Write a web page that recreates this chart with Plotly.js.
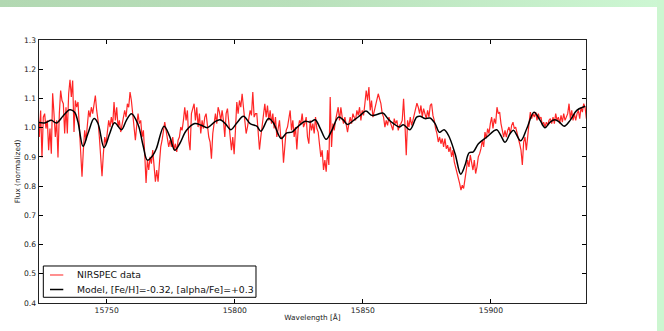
<!DOCTYPE html>
<html>
<head>
<meta charset="utf-8">
<script src="https://cdn.plot.ly/plotly-3.0.1.min.js"></script>
<style>
  html, body { margin: 0; padding: 0; background: #ffffff; }
  #wrap { position: relative; width: 664px; height: 331px; overflow: hidden; background: #ffffff; }
  #topstrip { position: absolute; left: 0; top: 0; width: 664px; height: 7px;
              background: linear-gradient(to right, #b2d8b2 0%, #b9e0bb 45%, #cdf7d3 100%); }
  #rightstrip { position: absolute; left: 657px; top: 0; width: 7px; height: 331px; background: #ccf6d0; }
  #chart { position: absolute; left: 0; top: 0; width: 664px; height: 331px; }
</style>
</head>
<body>
<div id="wrap">
  <div id="topstrip"></div>
  <div id="rightstrip"></div>
  <div id="chart"></div>
</div>
<script>
// NIRSPEC observed spectrum: regularly sampled, starting wavelength and step (Å)
const dataStart = 15723.2;
const dataStep = 0.5208;
const dataFlux = [
  1.070,0.968,1.059,0.898,1.036,1.048,0.997,1.025,0.923,0.997,
  0.911,1.118,1.048,0.968,1.025,0.898,1.048,1.127,1.093,1.082,
  0.980,1.070,0.980,1.116,1.164,1.105,1.161,0.985,1.093,1.070,
  1.088,1.014,0.934,0.832,0.923,0.991,0.957,1.014,1.059,1.036,
  1.070,1.048,1.082,1.110,1.059,1.025,0.968,0.900,0.834,0.911,
  0.968,0.945,0.991,1.025,1.002,1.036,1.008,1.088,1.025,1.070,
  1.002,1.025,0.985,1.014,1.031,1.059,1.036,1.082,1.070,1.122,
  1.093,1.048,1.025,0.957,1.008,1.048,1.014,1.025,0.968,0.991,
  0.911,0.811,0.889,0.855,0.900,0.877,0.923,0.866,0.815,0.855,
  0.815,0.877,0.934,0.957,0.991,1.019,0.991,0.968,0.934,0.957,
  0.934,0.968,0.923,0.945,0.917,0.957,0.968,1.002,0.991,1.025,
  1.070,1.025,1.059,0.957,0.923,1.048,1.070,1.082,1.025,1.070,
  1.002,1.048,0.980,1.025,0.997,1.036,1.048,1.002,0.968,0.951,
  0.894,0.980,1.025,1.048,1.014,1.070,1.053,1.025,1.059,
  1.025,0.968,1.048,1.065,1.014,0.957,0.923,0.968,0.909,0.991,
  1.088,1.048,1.093,1.070,1.116,1.070,1.025,0.980,1.002,1.036,
  1.059,1.042,1.122,1.036,1.048,1.048,0.991,0.925,0.968,1.014,
  1.036,1.082,1.036,1.076,1.025,1.059,1.014,1.048,0.997,1.036,
  0.968,0.991,1.025,0.963,0.968,0.880,0.945,0.991,1.002,1.025,
  1.059,0.991,1.025,0.968,1.002,0.925,0.997,1.025,1.014,1.048,
  1.002,1.014,1.036,0.968,0.945,1.025,0.991,1.014,0.980,1.036,
  0.997,0.985,0.934,0.900,0.923,0.855,0.889,0.849,0.923,0.872,
  1.105,0.934,1.014,0.991,1.025,1.048,1.070,1.025,1.070,1.036,
  1.014,1.036,1.002,0.985,1.014,1.036,1.014,1.048,1.036,1.025,
  1.059,1.042,1.070,1.025,1.059,1.042,1.082,1.127,1.093,1.139,
  1.059,1.093,1.036,1.059,1.070,1.093,1.116,1.099,1.082,1.048,
  1.036,1.002,1.025,1.008,1.036,1.019,1.002,0.991,1.031,1.014,
  1.025,0.991,1.008,1.014,1.025,1.099,
  1.014,0.906,1.025,1.002,1.036,1.008,1.025,1.048,1.070,1.084,
  1.070,1.048,1.076,1.036,1.065,1.042,1.031,1.059,1.036,1.076,
  1.082,1.042,1.025,0.997,0.980,0.951,0.968,0.945,0.963,0.934,
  0.963,0.928,0.940,0.917,0.934,0.900,0.923,0.883,0.866,0.843,
  0.832,0.809,0.786,0.803,0.792,0.832,0.855,0.889,0.866,0.906,
  0.877,0.855,0.889,0.843,0.866,0.900,0.911,0.928,0.957,0.934,
  0.985,0.963,0.997,0.980,1.014,1.036,0.997,1.031,1.014,1.070,
  1.048,1.053,1.014,0.985,0.968,0.991,0.968,0.991,1.002,0.980,
  1.008,1.019,0.997,1.002,0.985,0.963,0.945,0.923,0.872,0.951,
  0.968,0.923,0.985,1.014,1.053,1.031,1.048,1.036,1.053,1.025,
  1.048,1.031,1.036,1.008,1.019,1.002,1.019,1.008,1.025,1.031,
  1.014,1.036,1.014,1.048,1.025,1.036,1.014,1.042,1.019,1.048,
  1.025,1.036,1.048,1.082,1.031,1.059,1.025,1.048,1.025,1.048,
  1.059,1.031,1.070,1.053,1.082,1.070,1.031
];

// Synthetic model spectrum
const modelWave = [
  15723.2,15725.8,15728.4,15730.4,15733.0,15735.6,15737.5,15738.8,15740.8,15742.7,
  15745.1,15746.6,15749.0,15751.2,15753.1,15755.8,15757.7,15759.7,15762.3,15764.2,
  15765.9,15768.1,15769.4,15772.4,15774.6,15776.6,15778.5,15781.1,15784.4,15787.0,
  15789.3,15792.2,15794.3,15796.3,15798.5,15800.8,15803.4,15806.0,15808.6,15810.2,
  15813.2,15815.1,15818.1,15820.3,15822.3,15824.2,15827.5,15829.5,15831.4,15833.4,
  15835.7,15837.9,15840.5,15842.5,15844.0,15846.4,15849.0,15851.2,15853.5,15855.5,
  15857.8,15860.1,15862.0,15864.2,15865.8,15868.4,15871.0,15872.3,15874.3,15876.2,
  15878.2,15879.9,15881.7,15883.4,15886.0,15888.2,15889.9,15891.5,15893.1,15895.1,
  15898.4,15901.0,15902.3,15903.8,15905.5,15907.5,15908.8,15911.6,15914.0,15916.8,
  15919.2,15921.1,15923.1,15925.0,15926.7,15928.6,15930.9,15933.5,15936.8
];
const modelFlux = [
  1.018,1.016,1.025,1.016,1.040,1.061,1.053,1.020,0.936,0.980,
  1.031,1.015,0.932,0.980,1.017,0.993,1.025,1.048,1.010,0.940,
  0.889,0.906,0.928,1.005,0.970,0.923,0.945,0.990,1.014,1.008,
  1.000,1.020,1.027,1.014,0.993,1.016,1.039,1.014,1.005,0.988,
  1.031,1.016,0.963,0.982,0.985,1.000,1.022,1.019,1.027,0.997,
  0.960,0.991,1.036,1.025,1.011,1.025,1.042,1.057,1.042,1.045,
  1.050,1.027,1.014,1.002,1.010,0.993,1.036,1.039,1.031,1.033,
  1.014,0.984,0.993,0.974,0.911,0.841,0.872,0.914,0.917,0.945,
  0.968,0.988,0.993,0.974,0.950,0.980,0.991,0.955,0.997,1.053,
  1.025,1.000,1.019,1.027,1.019,1.005,1.025,1.059,1.073
];

const xRange = [15723.6, 15937.1];
const yRange = [0.4, 1.3];
const seriesNames = ['NIRSPEC data', 'Model, [Fe/H]=-0.32, [alpha/Fe]=+0.3'];
const seriesColors = ['rgba(255,0,0,0.85)', '#000000'];
const legendColors = ['#ff6a6a', '#000000'];

const traces = [
  {
    type: 'scatter', mode: 'lines', name: seriesNames[0],
    x0: dataStart, dx: dataStep, y: dataFlux,
    line: { color: seriesColors[0], width: 1.2 },
    hoverinfo: 'skip'
  },
  {
    type: 'scatter', mode: 'lines', name: seriesNames[1],
    x: modelWave, y: modelFlux,
    line: { color: seriesColors[1], width: 1.5, shape: 'spline', smoothing: 1.0 },
    hoverinfo: 'skip'
  }
];

// Legend box drawn in paper coordinates (plot area = 0..1)
const lgBox = { x0: 0.0079, x1: 0.3967, y0: 0.0217, y1: 0.1407 };
const lgRows = [0.1065, 0.0513];
const lgLine = [0.0201, 0.0444];
const lgText = 0.0658;

const shapes = [
  { type: 'rect', xref: 'paper', yref: 'paper', x0: lgBox.x0, x1: lgBox.x1, y0: lgBox.y0, y1: lgBox.y1,
    line: { color: '#000000', width: 1 }, fillcolor: '#ffffff', layer: 'above' }
];
const annotations = [];
seriesNames.forEach((nm, i) => {
  shapes.push({ type: 'line', xref: 'paper', yref: 'paper', x0: lgLine[0], x1: lgLine[1], y0: lgRows[i], y1: lgRows[i],
    line: { color: legendColors[i], width: 1.5 }, layer: 'above' });
  annotations.push({ xref: 'paper', yref: 'paper', x: lgText, y: lgRows[i], xanchor: 'left', yanchor: 'middle',
    text: nm, showarrow: false, font: { family: 'DejaVu Sans', size: 9.3, color: '#111111' } });
});

const tickFont = { family: 'DejaVu Sans', size: 7.6, color: '#222222' };
const layout = {
  width: 664, height: 331,
  margin: { l: 39, r: 78, t: 40, b: 28, pad: 0 },
  paper_bgcolor: 'rgba(0,0,0,0)',
  plot_bgcolor: '#ffffff',
  showlegend: false,
  shapes: shapes,
  annotations: annotations,
  xaxis: {
    range: xRange, tick0: 15750, dtick: 50, tickformat: 'd',
    showgrid: false, zeroline: false,
    showline: true, linecolor: '#222222', linewidth: 1.4, mirror: 'ticks',
    ticks: 'inside', ticklen: 4, tickwidth: 1, tickcolor: '#000000',
    tickfont: tickFont, ticklabelstandoff: -1,
    title: { text: 'Wavelength [Å]', font: { family: 'DejaVu Sans', size: 7.3, color: '#222222' }, standoff: 1 }
  },
  yaxis: {
    range: yRange, tick0: 0.4, dtick: 0.1, tickformat: '.1f',
    showgrid: false, zeroline: false,
    showline: true, linecolor: '#222222', linewidth: 1.4, mirror: 'ticks',
    ticks: 'inside', ticklen: 4, tickwidth: 1, tickcolor: '#000000',
    tickfont: tickFont,
    title: { text: 'Flux (normalized)', font: { family: 'DejaVu Sans', size: 7.3, color: '#222222' }, standoff: 2 }
  }
};

Plotly.newPlot('chart', traces, layout, { displayModeBar: false, staticPlot: true });
</script>
</body>
</html>
